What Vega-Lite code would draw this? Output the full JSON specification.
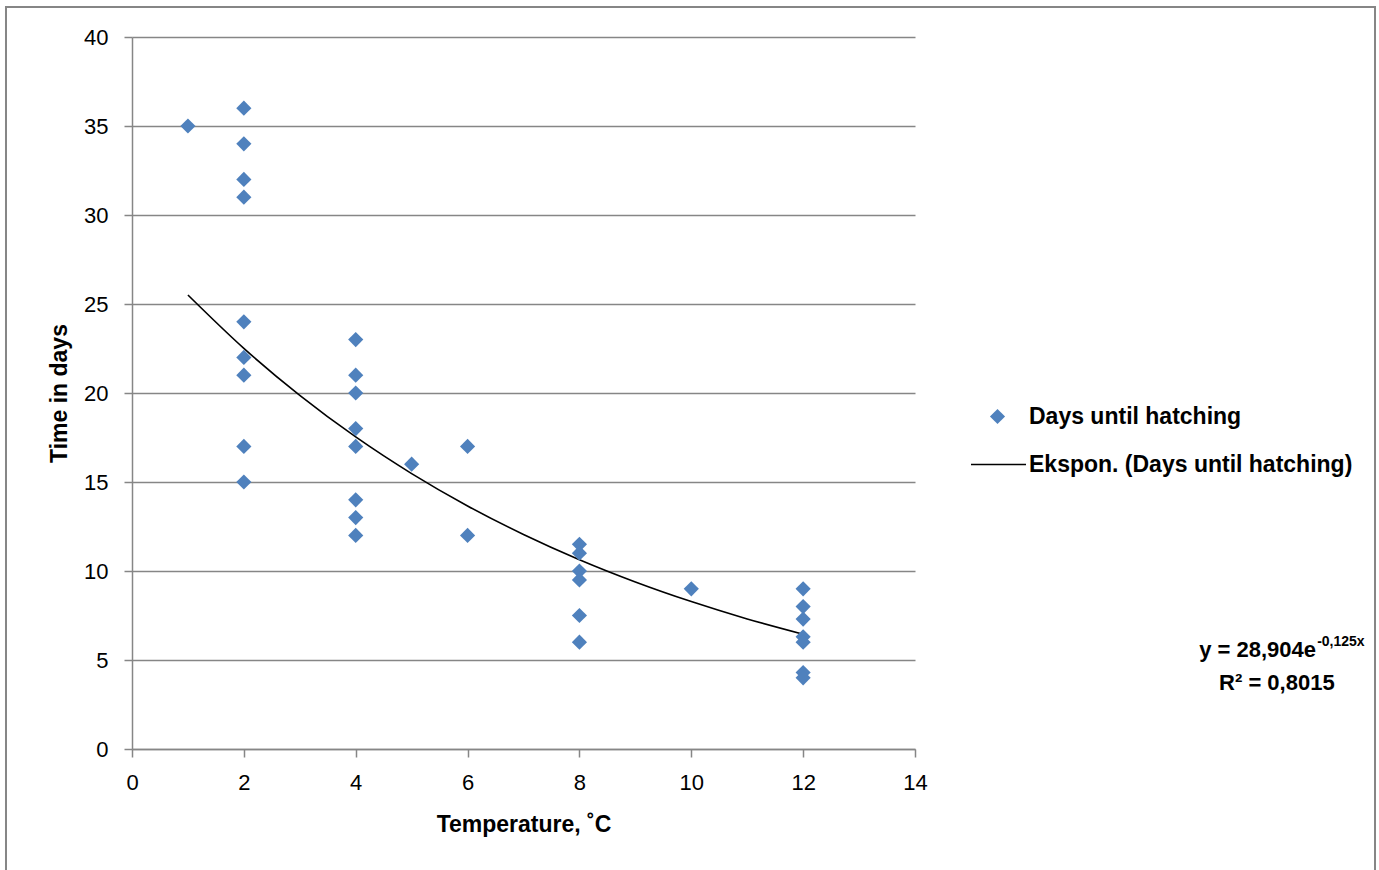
{
  "$schema": "https://vega.github.io/schema/vega-lite/v6.json",
  "width": 783,
  "height": 712,
  "autosize": {"type": "none"},
  "padding": {"left": 132, "top": 37, "right": 464, "bottom": 121},
  "background": "white",
  "config": {
    "view": {"stroke": null},
    "font": "Liberation Sans",
    "axis": {"labelFont": "Liberation Sans", "titleFont": "Liberation Sans", "labelFontSize": 22, "titleFontSize": 23, "labelColor": "#000", "titleColor": "#000", "domainColor": "#868686", "tickColor": "#868686", "gridColor": "#868686", "domainWidth": 1.5, "tickWidth": 1.5, "gridWidth": 1.5, "tickSize": 8, "labelFlush": false}
  },
  "datasets": {
    "obs": [
      {"temp": 1, "days": 35},
      {"temp": 2, "days": 36}, {"temp": 2, "days": 34}, {"temp": 2, "days": 32}, {"temp": 2, "days": 31},
      {"temp": 2, "days": 24}, {"temp": 2, "days": 22}, {"temp": 2, "days": 21}, {"temp": 2, "days": 17}, {"temp": 2, "days": 15},
      {"temp": 4, "days": 23}, {"temp": 4, "days": 21}, {"temp": 4, "days": 20}, {"temp": 4, "days": 18}, {"temp": 4, "days": 17},
      {"temp": 4, "days": 14}, {"temp": 4, "days": 13}, {"temp": 4, "days": 12},
      {"temp": 5, "days": 16},
      {"temp": 6, "days": 17}, {"temp": 6, "days": 12},
      {"temp": 8, "days": 11.5}, {"temp": 8, "days": 11}, {"temp": 8, "days": 10}, {"temp": 8, "days": 9.5}, {"temp": 8, "days": 7.5}, {"temp": 8, "days": 6},
      {"temp": 10, "days": 9},
      {"temp": 12, "days": 9}, {"temp": 12, "days": 8}, {"temp": 12, "days": 7.3}, {"temp": 12, "days": 6.3}, {"temp": 12, "days": 6}, {"temp": 12, "days": 4.3}, {"temp": 12, "days": 4}
    ],
    "trend": [
      {"temp": 1, "days": 25.508}, {"temp": 2, "days": 22.510}, {"temp": 3, "days": 19.866}, {"temp": 4, "days": 17.531},
      {"temp": 5, "days": 15.472}, {"temp": 6, "days": 13.654}, {"temp": 7, "days": 12.050}, {"temp": 8, "days": 10.633},
      {"temp": 9, "days": 9.384}, {"temp": 10, "days": 8.282}, {"temp": 11, "days": 7.308}, {"temp": 12, "days": 6.449}
    ],
    "frame": [{"x1": -2.253, "x2": 22.225, "y1": 41.685, "y2": -10}],
    "eq": [{"temp": 21.17, "days": 5.56, "label": "y = 28,904e"}],
    "eqsup": [{"temp": 21.19, "days": 6.0, "label": "-0,125x"}],
    "r2": [{"temp": 20.47, "days": 3.71, "label": "R² = 0,8015"}]
  },
  "layer": [
    {
      "data": {"name": "frame"},
      "mark": {"type": "rect", "fill": null, "filled": false, "stroke": "#868686", "strokeWidth": 2, "clip": false},
      "encoding": {
        "x": {"field": "x1", "type": "quantitative", "scale": {"domain": [0, 14], "nice": false}},
        "x2": {"field": "x2"},
        "y": {"field": "y1", "type": "quantitative", "scale": {"domain": [0, 40], "nice": false}},
        "y2": {"field": "y2"}
      }
    },
    {
      "data": {"name": "trend"},
      "mark": {"type": "line", "interpolate": "monotone", "strokeWidth": 1.6},
      "encoding": {
        "x": {"field": "temp", "type": "quantitative", "scale": {"domain": [0, 14], "nice": false}, "axis": {"values": [0, 2, 4, 6, 8, 10, 12, 14], "format": "d", "grid": false, "title": "Temperature, ˚C", "labelPadding": 15, "titlePadding": 20}},
        "y": {"field": "days", "type": "quantitative", "scale": {"domain": [0, 40], "nice": false}, "axis": {"values": [0, 5, 10, 15, 20, 25, 30, 35, 40], "format": "d", "grid": true, "title": "Time in days", "labelPadding": 16, "titlePadding": 12}},
        "stroke": {"datum": "Ekspon. (Days until hatching)", "type": "nominal", "scale": {"range": ["#000000"]}, "legend": {"orient": "none", "legendX": 838, "legendY": 399, "title": null, "symbolType": "stroke", "symbolSize": 3025, "symbolStrokeWidth": 1.6, "labelFont": "Liberation Sans", "labelFontSize": 23, "labelFontWeight": "bold", "labelColor": "#000", "labelOffset": 2, "labelLimit": 400, "padding": 0}}
      }
    },
    {
      "data": {"name": "obs"},
      "mark": {"type": "point", "shape": "diamond", "filled": true, "size": 230, "opacity": 1},
      "encoding": {
        "x": {"field": "temp", "type": "quantitative"},
        "y": {"field": "days", "type": "quantitative"},
        "color": {"datum": "Days until hatching", "type": "nominal", "scale": {"range": ["#4F81BD"]}, "legend": {"orient": "none", "legendX": 854, "legendY": 368, "title": null, "symbolType": "diamond", "symbolSize": 230, "labelFont": "Liberation Sans", "labelFontSize": 23, "labelFontWeight": "bold", "labelColor": "#000", "labelOffset": 20, "labelLimit": 400, "padding": 0}}
      }
    },
    {
      "data": {"name": "eq"},
      "mark": {"type": "text", "align": "right", "baseline": "middle", "fontSize": 22, "fontWeight": "bold", "clip": false},
      "encoding": {"x": {"field": "temp", "type": "quantitative"}, "y": {"field": "days", "type": "quantitative"}, "text": {"field": "label"}}
    },
    {
      "data": {"name": "eqsup"},
      "mark": {"type": "text", "align": "left", "baseline": "middle", "fontSize": 14, "fontWeight": "bold", "clip": false},
      "encoding": {"x": {"field": "temp", "type": "quantitative"}, "y": {"field": "days", "type": "quantitative"}, "text": {"field": "label"}}
    },
    {
      "data": {"name": "r2"},
      "mark": {"type": "text", "align": "center", "baseline": "middle", "fontSize": 22, "fontWeight": "bold", "clip": false},
      "encoding": {"x": {"field": "temp", "type": "quantitative"}, "y": {"field": "days", "type": "quantitative"}, "text": {"field": "label"}}
    }
  ]
}
